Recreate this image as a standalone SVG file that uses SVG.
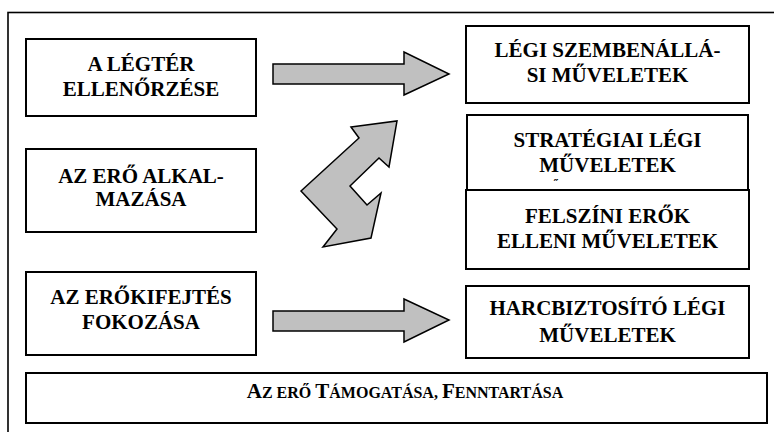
<svg xmlns="http://www.w3.org/2000/svg" width="774" height="432" viewBox="0 0 774 432">
<style>
.box{fill:#fff;stroke:#000;stroke-width:2}
.frame{fill:#fff;stroke:#000;stroke-width:1.6}
.arr{fill:#c0c0c0;stroke:#000;stroke-width:1.5;stroke-linejoin:miter}
text{font-family:'Liberation Serif','Times New Roman',Times,serif;font-weight:bold;font-size:21px;fill:#000;text-anchor:middle}
.sm{font-size:16px}
</style>
<rect class="frame" x="8" y="12.5" width="780" height="440"/>
<g id="connectors">
<polygon class="arr" points="273,64 404,64 404,52 449,74 404,95 404,84 273,84"/>
<polygon class="arr" points="273,311 404,311 404,299 449,320 404,342 404,331 273,331"/>
<polygon class="arr" points="351,127 397,121 389,167 379,158 350,186 367,205 381,193 371,238 323,247 337,229 301,191 359,138"/>
</g>
<g id="n1" font-family="Liberation Serif, serif"><rect class="box" x="26" y="39" width="230" height="77"/>
<text x="141" y="71">A LÉGTÉR</text><text x="141" y="96">ELLENŐRZÉSE</text></g>
<g id="n2"><rect class="box" x="26" y="149" width="230" height="83"/>
<text x="141" y="183">AZ ERŐ ALKAL-</text><text x="141" y="206">MAZÁSA</text></g>
<g id="n3"><rect class="box" x="26" y="272" width="230" height="83"/>
<text x="141" y="304">AZ ERŐKIFEJTÉS</text><text x="141" y="329">FOKOZÁSA</text></g>
<g id="n4"><rect class="box" x="466" y="26" width="283" height="77"/>
<text x="607.5" y="57">LÉGI SZEMBENÁLLÁ-</text><text x="607.5" y="82">SI MŰVELETEK</text></g>
<g id="n5"><rect class="box" x="467" y="115" width="281" height="80"/>
<text x="607.5" y="147">STRATÉGIAI LÉGI</text><text x="607.5" y="172">MŰVELETEK</text>
<text x="556" y="188" style="font-size:12px">˝</text></g>
<g id="n6"><rect class="box" x="466" y="190" width="283" height="79"/>
<text x="607.5" y="223">FELSZÍNI ERŐK</text><text x="607.5" y="248">ELLENI MŰVELETEK</text></g>
<g id="n7"><rect class="box" x="466" y="286" width="283" height="72"/>
<text x="607.5" y="315">HARCBIZTOSÍTÓ LÉGI</text><text x="607.5" y="342">MŰVELETEK</text></g>
<g id="n8"><rect class="box" x="26" y="373" width="741" height="50"/>
<text x="405" y="398">A<tspan class="sm">Z ERŐ </tspan>T<tspan class="sm">ÁMOGATÁSA, </tspan>F<tspan class="sm">ENNTARTÁSA</tspan></text></g>
</svg>
